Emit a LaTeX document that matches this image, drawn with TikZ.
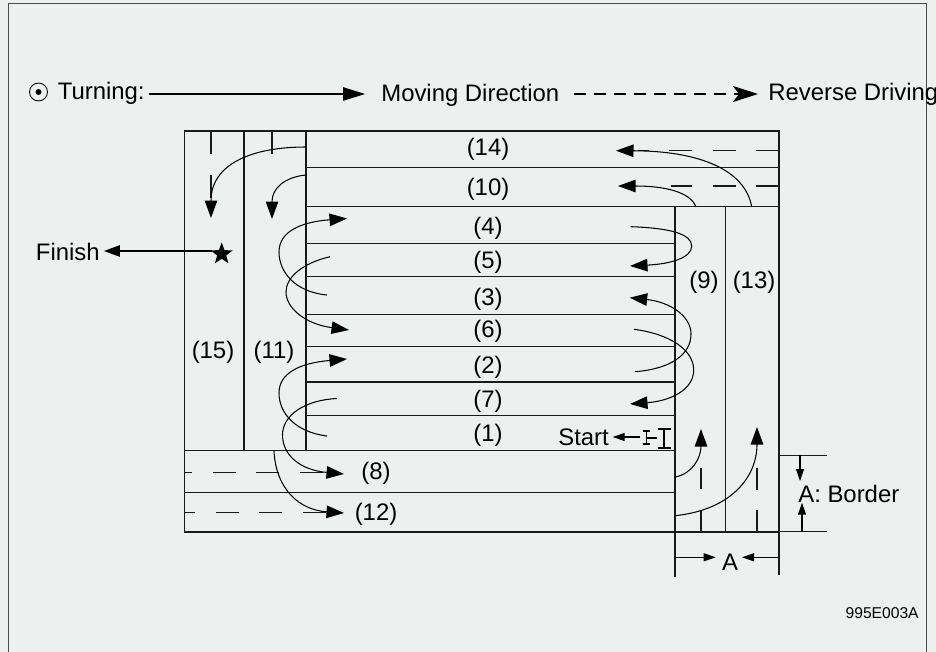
\documentclass[tikz,border=0pt]{standalone}
\usepackage{fontspec}
\setmainfont{Liberation Sans}
\usetikzlibrary{arrows.meta,shapes.geometric}
\definecolor{paper}{HTML}{EEF0F0}
\definecolor{ink}{HTML}{1A1A1A}

\begin{document}
\begin{tikzpicture}[
    x=0.02cm, y=-0.02cm,
    lane/.style={draw=ink, line width=0.65pt},
    track/.style={draw=black, line width=0.95pt},
    bigflow/.style={draw=black, line width=0.6pt, -{Triangle[length=3.5mm,width=2.5mm]}},
    smallflow/.style={draw=black, line width=0.6pt, -{Triangle[length=2.4mm,width=1.6mm]}},
    gapdash/.style={draw=ink, line width=0.6pt, dash pattern=on 4.6mm off 4.1mm},
    label/.style={font=\fontsize{13.6}{16}\selectfont, inner sep=0pt, text=black}
  ]
    \useasboundingbox (0,0) rectangle (936,652);
    \fill[paper] (0,0) rectangle (936,652);
    \draw[draw=black!70, line width=0.85pt] (8.5,700) -- (8.5,3.5) -- (926.5,3.5) -- (926.5,700);

    % legend
    \node[draw=black, circle, line width=0.5pt, minimum size=3.6mm, inner sep=0pt] (turnmark) at (38.5,92) {};
    \fill (turnmark.center) circle (0.6mm);
    \node[label, anchor=west] (turning) at (57.5,93) {Turning:};
    \node[label, anchor=west] (moving) at (381,95) {Moving Direction};
    \node[label, anchor=west] (reverse) at (768,94.5) {Reverse Driving};
    \coordinate (turnline) at (149,94);
    \coordinate (turntip) at (365,94);
    \draw[draw=black, line width=0.6pt, -{Triangle[length=4.4mm,width=2.7mm]}] (turnline) -- (turntip);
    \coordinate (revline) at (574,94);
    \coordinate (revtip) at (758,94);
    \draw[draw=black, line width=0.6pt, dash pattern=on 2.4mm off 1.6mm, -{Stealth[length=5mm,width=3.2mm,inset=1.2mm]}] (revline) -- (revtip);

    % road outline
    \draw[lane] (184.3,131) rectangle (779,532);
    \draw[lane] (244,131) -- (244,450.7);
    \draw[lane] (306,131) -- (306,450.7);
    \draw[lane] (306,167.7) -- (779,167.7);
    \draw[lane] (306,206.7) -- (779,206.7);
    \draw[lane] (306,243.7) -- (675,243.7);
    \draw[lane] (306,276.7) -- (675,276.7);
    \draw[lane] (306,314.7) -- (675,314.7);
    \draw[lane] (306,346.7) -- (675,346.7);
    \draw[lane] (306,382) -- (675,382);
    \draw[lane] (306,415.7) -- (675,415.7);
    \draw[lane] (184.3,450.7) -- (675,450.7);
    \draw[lane] (184.3,492.7) -- (675,492.7);
    \draw[lane] (675,206.7) -- (675,576.7);
    \draw[lane] (725.3,206.7) -- (725.3,532);
    \draw[lane] (779,532) -- (779,575);

    % lane labels
    \node[label] (n14) at (488,149) {(14)};
    \node[label] (n10) at (488,189) {(10)};
    \node[label] (n4) at (488,228) {(4)};
    \node[label] (n5) at (488,262) {(5)};
    \node[label] (n3) at (488,299) {(3)};
    \node[label] (n6) at (488,331) {(6)};
    \node[label] (n2) at (488,367) {(2)};
    \node[label] (n7) at (488,401) {(7)};
    \node[label] (n1) at (488,435) {(1)};
    \node[label] (n15) at (213,352) {(15)};
    \node[label] (n11) at (274,352) {(11)};
    \node[label] (n9) at (704,282) {(9)};
    \node[label] (n13) at (754,282) {(13)};
    \node[label] (n8) at (376,473) {(8)};
    \node[label] (n12) at (376,514) {(12)};

    % reverse driving dashes
    \draw[gapdash] (211,131) -- (211,154);
    \draw[gapdash] (211,175) -- (211,200);
    \draw[gapdash] (272,131) -- (272,154);
    \draw[gapdash] (779,150.7) -- (638,150.7);
    \draw[gapdash] (779,186) -- (671,186);
    \draw[gapdash] (192,472.7) -- (184.3,472.7);
    \draw[gapdash] (212.7,472.7) -- (328,472.7);
    \draw[gapdash] (195,512.3) -- (184.3,512.3);
    \draw[gapdash] (216,512.3) -- (328,512.3);
    \draw[gapdash] (701,467.7) -- (701,489);
    \draw[gapdash] (701,510.7) -- (701,531.7);
    \draw[gapdash] (757,467.7) -- (757,490);
    \draw[gapdash] (757,510) -- (757,531.7);

    % turns
    \draw[bigflow] (306,147) .. controls (250,147) and (211,165) .. (211,218);
    \draw[bigflow] (306,175) .. controls (285,177) and (272,188) .. (272,219);
    \draw[bigflow] (327,295) .. controls (295,292) and (279,272) .. (279,252) .. controls (279,232) and (300,222) .. (347,218.5);
    \draw[bigflow] (330,256.7) .. controls (303,263) and (286,277) .. (286,292) .. controls (286,308) and (305,324) .. (349,330);
    \draw[bigflow] (327,436) .. controls (295,432) and (279,413) .. (279,393) .. controls (279,373) and (300,363) .. (347,359);
    \draw[bigflow] (337,398.5) .. controls (305,400) and (282.5,415) .. (282.5,435) .. controls (282.5,455) and (300,470) .. (344,474);
    \draw[bigflow] (274,451) .. controls (276,490) and (300,510) .. (344,513);
    \draw[bigflow] (751.7,206.7) .. controls (745,170) and (700,151) .. (616,150.7);
    \draw[bigflow] (696,206.7) .. controls (690,192) and (665,186) .. (618,186);
    \draw[bigflow] (630.7,226.7) .. controls (670,228) and (691.7,234) .. (691.7,246) .. controls (691.7,258) and (670,264) .. (630,266);
    \draw[bigflow] (635,371.7) .. controls (670,369) and (691,355) .. (691,334) .. controls (691,316) and (670,302) .. (629.7,297.7);
    \draw[bigflow] (634,329.3) .. controls (670,334) and (693.7,350) .. (693.7,370) .. controls (693.7,390) and (670,401) .. (630,404);
    \draw[bigflow] (675,477) .. controls (692,474) and (701,458) .. (701,429);
    \draw[bigflow] (675,515.7) .. controls (730,510) and (757,478) .. (757,427);

    % finish and start
    \node[label, anchor=east] (finish) at (100,252) {Finish};
    \node[star, star points=5, star point ratio=2.4, fill=black, minimum size=4.6mm, inner sep=0pt] (goal) at (221.7,254) {};
    \coordinate (goalline) at (212,251);
    \coordinate (finishtip) at (104,251);
    \draw[draw=black, line width=0.6pt, -{Triangle[length=3.2mm,width=2.3mm]}] (goalline) -- (finishtip);
    \node[label, anchor=west] (start) at (558,437) {Start};
    \draw[track] (646.5,430.7) -- (646.5,444.3);
    \draw[track] (642.7,430.7) -- (650,430.7);
    \draw[track] (642.7,444.3) -- (650,444.3);
    \draw[track] (646.5,438) -- (656.7,438);
    \draw[track] (664.3,429) -- (664.3,448.3);
    \draw[track] (658,429) -- (671,429);
    \draw[track] (658,448.3) -- (671,448.3);
    \coordinate (startbar) at (640,437);
    \coordinate (starttip) at (612.7,437);
    \draw[smallflow] (startbar) -- (starttip);

    % border width
    \draw[lane] (779,455.3) -- (827,455.3);
    \draw[lane] (779,531.7) -- (827,531.7);
    \node[label, anchor=west] (border) at (798,493.5) {A: Border};
    \draw[smallflow] (800,455.3) -- (800,481);
    \draw[smallflow] (802,531.7) -- (802,502.7);
    \node[label] (widtha) at (730,562) {A};
    \draw[smallflow] (675,557.3) -- (715.7,557.3);
    \draw[smallflow] (779,557.3) -- (742,557.3);

    \node[font=\fontsize{8.9}{12}\selectfont, inner sep=0pt, anchor=east] (code) at (919,613) {995E003A};
  \end{tikzpicture}
\end{document}
